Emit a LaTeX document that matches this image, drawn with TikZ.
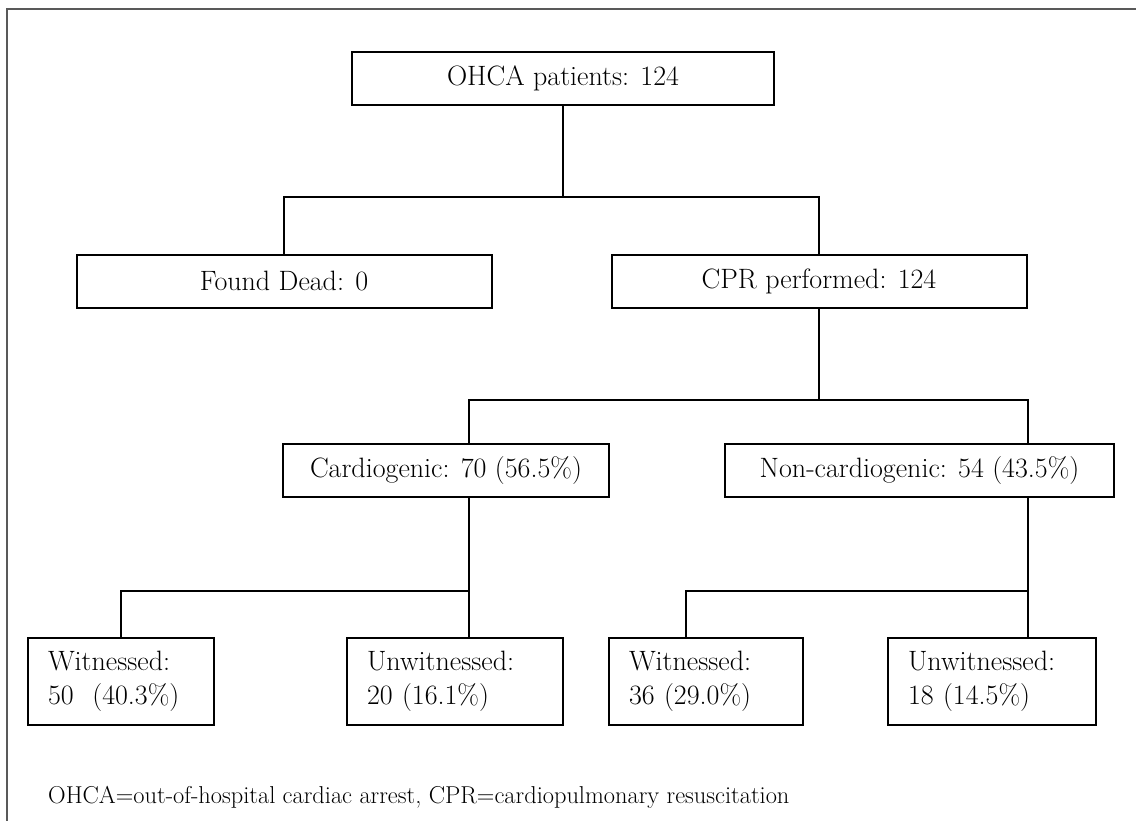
\documentclass[tikz,border=0pt]{standalone}
\usetikzlibrary{positioning}

\begin{document}
\begin{tikzpicture}[x=1pt, y=-1pt,
    box/.style={draw, line width=2pt, minimum height=53pt, inner sep=0pt,
                font=\fontsize{28}{34}\selectfont},
    leaf/.style={box, minimum height=87pt, align=left, inner xsep=20pt},
    link/.style={line width=1.6pt}]
    \useasboundingbox (0,0) rectangle (1136,821);
    % frame (only top and left edges show)
    \draw[line width=2pt, black!65] (7,821) -- (7,9) -- (1136,9);

    \node[box, minimum width=422pt] (top) at (563,78.5) {OHCA patients: 124};
    \node[box, minimum width=415pt] (dead) at (284,281.5) {Found Dead: 0};
    \node[box, minimum width=415pt] (cpr) at (819,281.5) {CPR performed: 124};
    \node[box, minimum width=326pt] (cardio) at (446,470.5) {Cardiogenic: 70 (56.5\%)};
    \node[box, minimum width=389pt] (noncardio) at (919.5,470.5) {Non-cardiogenic: 54 (43.5\%)};

    \node[leaf, text width=146pt] (w1) at (121,681.5) {Witnessed:\\50~ (40.3\%)};
    \node[leaf, text width=176pt] (u1) at (455,681.5) {Unwitnessed:\\20 (16.1\%)};
    \node[leaf, text width=154pt] (w2) at (706,681.5) {Witnessed:\\36 (29.0\%)};
    \node[leaf, text width=168pt] (u2) at (992,681.5) {Unwitnessed:\\18 (14.5\%)};

    \coordinate (j1) at (563,197);
    \coordinate (c1) at (469,400);
    \coordinate (c2) at (1028,400);
    \coordinate (d1) at (121,591);
    \coordinate (e1) at (686,591);

    \draw[link] (top.south) -- (j1);
    \draw[link] (dead.north) |- (cpr.north |- j1) -- (cpr.north);
    \draw[link] (cpr.south) -- (cpr.south |- c1);
    \draw[link] (c1 |- cardio.north) -- (c1) -- (c2) -- (c2 |- noncardio.north);
    \draw[link] (c1 |- cardio.south) -- (c1 |- u1.north);
    \draw[link] (w1.north) -- (d1) -- (c1 |- d1);
    \draw[link] (c2 |- noncardio.south) -- (c2 |- u2.north);
    \draw[link] (w2.north -| e1) -- (e1) -- (c2 |- e1);

    \node[anchor=base west, inner sep=0pt, font=\fontsize{24.4}{28}\selectfont] (note) at (48,803)
        {OHCA=out-of-hospital cardiac arrest, CPR=cardiopulmonary resuscitation};
\end{tikzpicture}
\end{document}
